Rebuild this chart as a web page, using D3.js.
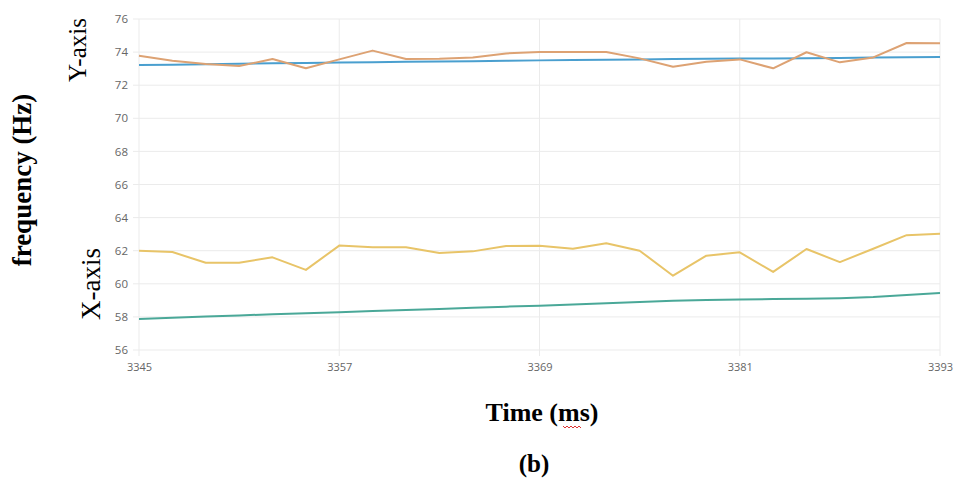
<!DOCTYPE html>
<html>
<head>
<meta charset="utf-8">
<script src="https://cdn.jsdelivr.net/npm/d3@7"></script>
<style>
  html, body { margin: 0; padding: 0; background: #fff; }
  svg { display: block; }
</style>
</head>
<body>
<svg id="chart" width="958" height="483"></svg>
<script>
// ---- data ----
const times = [3345, 3347, 3349, 3351, 3353, 3355, 3357, 3359, 3361, 3363, 3365, 3367, 3369,
               3371, 3373, 3375, 3377, 3379, 3381, 3383, 3385, 3387, 3389, 3391, 3393];
const yAxisMeasured = [73.78, 73.48, 73.28, 73.16, 73.58, 73.02, 73.56, 74.09, 73.58, 73.6, 73.68, 73.92, 74.0,
                       74.0, 74.0, 73.62, 73.12, 73.42, 73.56, 73.02, 73.99, 73.38, 73.68, 74.55, 74.53];
const yAxisReference = [73.22, 73.24, 73.27, 73.3, 73.32, 73.34, 73.37, 73.39, 73.41, 73.43, 73.45, 73.48, 73.5,
                        73.52, 73.54, 73.56, 73.58, 73.6, 73.61, 73.62, 73.63, 73.65, 73.67, 73.69, 73.71];
const xAxisMeasured = [62.0, 61.92, 61.27, 61.27, 61.6, 60.84, 62.31, 62.21, 62.21, 61.86, 61.96, 62.29, 62.3,
                       62.12, 62.45, 62.0, 60.49, 61.7, 61.9, 60.72, 62.1, 61.31, 62.12, 62.94, 63.02];
const xAxisReference = [57.88, 57.95, 58.02, 58.09, 58.16, 58.22, 58.28, 58.35, 58.42, 58.48, 58.55, 58.62, 58.68,
                        58.75, 58.82, 58.9, 58.98, 59.02, 59.05, 59.08, 59.1, 59.13, 59.2, 59.33, 59.45];
const xTicks = [3345, 3357, 3369, 3381, 3393];
const yTicks = [56, 58, 60, 62, 64, 66, 68, 70, 72, 74, 76];
const seriesList = [
  { name: "X-axis reference", values: xAxisReference, color: "#4aa898" },
  { name: "X-axis measured", values: xAxisMeasured, color: "#e8c468" },
  { name: "Y-axis reference", values: yAxisReference, color: "#4a9fcf" },
  { name: "Y-axis measured", values: yAxisMeasured, color: "#dda273" }
];

// ---- layout ----
const svg = d3.select("#chart");
const x = d3.scaleLinear().domain([3345, 3393]).range([139, 940]);
const y = d3.scaleLinear().domain([56, 76]).range([350, 19]);

// grid
const grid = svg.append("g");
grid.selectAll("line.h").data(yTicks).join("line")
  .attr("x1", 133).attr("x2", 940)
  .attr("y1", d => y(d)).attr("y2", d => y(d))
  .attr("stroke", "#ebebeb").attr("stroke-width", 1);
grid.selectAll("line.v").data(xTicks).join("line")
  .attr("x1", d => x(d)).attr("x2", d => x(d))
  .attr("y1", 19).attr("y2", 356)
  .attr("stroke", "#ebebeb").attr("stroke-width", 1);

// axes labels via d3 axes
const yAxis = d3.axisLeft(y).tickValues(yTicks).tickSize(0).tickPadding(11);
const gy = svg.append("g").attr("transform", `translate(${x.range()[0]},0)`).call(yAxis);
gy.select(".domain").remove();
gy.selectAll("text").attr("fill", "#666").style("font-family", "'Open Sans', sans-serif").style("font-size", "11.5px");

const xAxis = d3.axisBottom(x).tickValues(xTicks).tickFormat(d3.format("d")).tickSize(0).tickPadding(13);
const gx = svg.append("g").attr("transform", `translate(0,${y.range()[0]})`).call(xAxis);
gx.select(".domain").remove();
gx.selectAll("text").attr("fill", "#666").style("font-family", "'Open Sans', sans-serif").style("font-size", "11px");

// lines
const line = d3.line().x((d, i) => x(times[i])).y(d => y(d));
svg.append("g").selectAll("path").data(seriesList).join("path")
  .attr("d", d => line(d.values))
  .attr("fill", "none")
  .attr("stroke", d => d.color)
  .attr("stroke-width", 2)
  .attr("stroke-linejoin", "round");

// text labels
const serif = "'Liberation Serif', 'Times New Roman', serif";
svg.append("text")
  .attr("transform", "translate(31,180) rotate(-90)")
  .attr("text-anchor", "middle")
  .style("font-family", serif).style("font-weight", "bold").style("font-size", "27px")
  .text("frequency (Hz)");
svg.append("text")
  .attr("transform", "translate(86,50) rotate(-90)")
  .attr("text-anchor", "middle")
  .style("font-family", serif).style("font-size", "25px")
  .text("Y-axis");
svg.append("text")
  .attr("transform", "translate(100,284) rotate(-90)")
  .attr("text-anchor", "middle")
  .style("font-family", serif).style("font-size", "27px")
  .text("X-axis");
svg.append("text")
  .attr("x", 542).attr("y", 421)
  .attr("text-anchor", "middle")
  .style("font-family", serif).style("font-weight", "bold").style("font-size", "26px")
  .text("Time (ms)");
svg.append("text")
  .attr("x", 534).attr("y", 472)
  .attr("text-anchor", "middle")
  .style("font-family", serif).style("font-weight", "bold").style("font-size", "25px")
  .text("(b)");

// spell-check squiggle under "ms"
let sq = "M563,426";
for (let i = 0; i < 9; i++) {
  sq += ` l2,${i % 2 === 0 ? 2 : -2}`;
}
svg.append("path").attr("d", sq).attr("fill", "none").attr("stroke", "#d33").attr("stroke-width", 1);
</script>
</body>
</html>
